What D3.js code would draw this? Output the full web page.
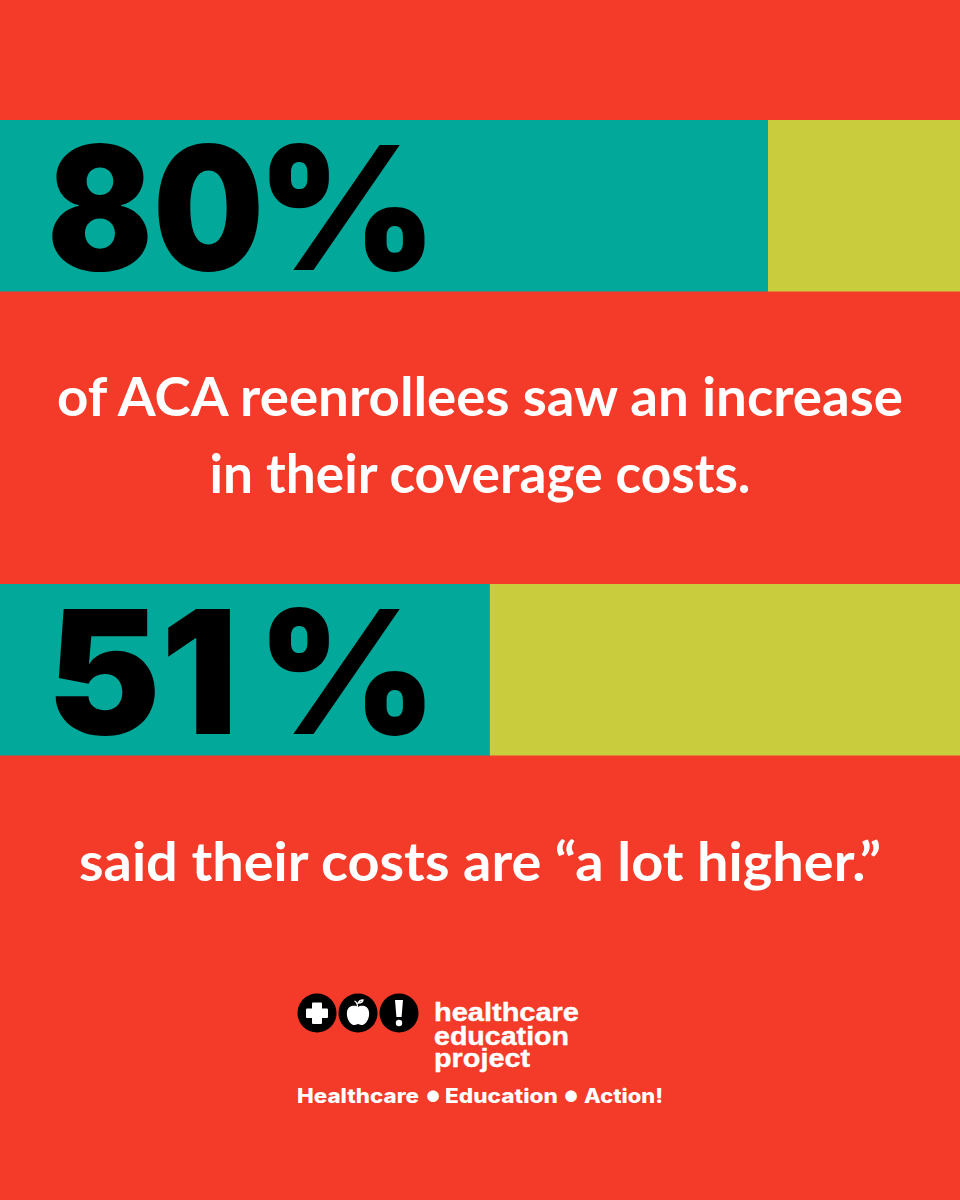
<!DOCTYPE html>
<html>
<head>
  <meta charset="utf-8">
  <title>ACA reenrollees</title>
  <script src="https://cdn.jsdelivr.net/npm/d3@7"></script>
  <style>
    html, body { margin: 0; padding: 0; background: #f43a28; }
    svg { display: block; }
  </style>
</head>
<body>
<div id="chart"></div>
<script>
// values
var labels = ["80", "51"];
var shares = [80, 51];
var captions = [
  ["of ACA reenrollees saw an increase", "in their coverage costs."],
  ["said their costs are \u201ca lot higher.\u201d"]
];
var logoLines = ["healthcare", "education", "project"];
var taglineWords = ["Healthcare", "Education", "Action!"];

var width = 960, height = 1200;
var red = "#f43a28", teal = "#02a899", lime = "#c8cc3d";

var svg = d3.select("#chart").append("svg")
    .attr("width", width)
    .attr("height", height);

svg.append("rect").attr("width", width).attr("height", height).attr("fill", red);

var x = d3.scaleLinear().domain([0, 100]).range([0, width]);
var rowTop = d3.scaleOrdinal().domain(labels).range([120, 584]);
var numberW = d3.scaleOrdinal().domain(labels).range([217, 191]);
var rowH = 171.5;

var rows = svg.selectAll("g.row")
    .data(labels.map(function(d, i) { return { label: d, share: shares[i] }; }))
    .enter().append("g")
    .attr("class", "row")
    .attr("transform", function(d) { return "translate(0," + rowTop(d.label) + ")"; });

rows.append("rect")
    .attr("x", function(d) { return x(d.share); })
    .attr("width", function(d) { return x(100) - x(d.share); })
    .attr("height", rowH)
    .attr("fill", lime);

rows.append("rect")
    .attr("width", function(d) { return x(d.share); })
    .attr("height", rowH)
    .attr("fill", teal);

// squeeze a text to a width with a transform, so its box stays true
function fitted(parent, txt, left, baseline, w) {
  var t = parent.append("text")
      .style("font-family", "Inter, sans-serif")
      .style("font-weight", 900)
      .style("font-size", "172px")
      .text(txt);
  var sx = w / t.node().getComputedTextLength();
  t.attr("transform", "translate(" + left + "," + baseline + ") scale(" + sx + ",1)");
}

rows.each(function(d) {
  var g = d3.select(this);
  fitted(g, d.label, 47, 150, numberW(d.label));
  fitted(g, "%", 257, 150, 180);
});

// captions, baselines and widths
var captionY = [[416, 493], [881]];
var captionW = [[846, 541], [802]];
captions.forEach(function(lines, i) {
  lines.forEach(function(line, j) {
    svg.append("text")
        .attr("class", "caption")
        .attr("x", 480)
        .attr("y", captionY[i][j])
        .attr("text-anchor", "middle")
        .attr("textLength", captionW[i][j])
        .attr("lengthAdjust", "spacingAndGlyphs")
        .attr("fill", "#fff")
        .style("font-family", "Lato, sans-serif")
        .style("font-weight", 700)
        .style("font-size", "53px")
        .text(line);
  });
});

// logo
var logo = svg.append("g").attr("class", "logo");
[317, 358, 399].forEach(function(cx) {
  logo.append("circle").attr("cx", cx).attr("cy", 1013).attr("r", 19.5).attr("fill", "#000");
});

// plus
logo.append("rect").attr("x", 306).attr("y", 1008.5).attr("width", 22).attr("height", 9.5).attr("rx", 1).attr("fill", "#fff");
logo.append("rect").attr("x", 312).attr("y", 1002.5).attr("width", 10).attr("height", 21.5).attr("rx", 1).attr("fill", "#fff");

// apple
logo.append("path")
    .attr("d", "M358 1007c-3-2-10-2-11 5c-1 7 4 14 8 13c1 0 2-1 3-1s2 1 3 1c4 1 9-6 8-13c-1-7-8-7-11-5z")
    .attr("fill", "#fff");
logo.append("path")
    .attr("d", "M357.5 1007c0-3-1-5-3-6M358 1003c1-2 3-3 5-3c0 2-2 3-5 3z")
    .attr("fill", "none")
    .attr("stroke", "#fff")
    .attr("stroke-width", 1.3);

// exclamation mark
logo.append("path")
    .attr("d", "M395 1000h8l-1.4 17h-5.2z")
    .attr("fill", "#fff");
logo.append("circle").attr("cx", 399).attr("cy", 1023).attr("r", 3.2).attr("fill", "#fff");

var logoY = [1021, 1044.5, 1067];
var logoW = [145, 135, 96];
logoLines.forEach(function(line, i) {
  logo.append("text")
      .attr("x", 434)
      .attr("y", logoY[i])
      .attr("textLength", logoW[i])
      .attr("lengthAdjust", "spacingAndGlyphs")
      .attr("fill", "#fff")
      .attr("stroke", "#fff")
      .attr("stroke-width", 0.4)
      .style("font-family", "'Liberation Sans', sans-serif")
      .style("font-weight", 700)
      .style("font-size", "26.5px")
      .text(line);
});

var tagX = [297, 445, 584];
var tagW = [122, 113, 79];
taglineWords.forEach(function(word, i) {
  logo.append("text")
      .attr("x", tagX[i])
      .attr("y", 1103)
      .attr("textLength", tagW[i])
      .attr("lengthAdjust", "spacingAndGlyphs")
      .attr("fill", "#fff")
      .style("font-family", "Inter, sans-serif")
      .style("font-weight", 800)
      .style("font-size", "19.5px")
      .text(word);
});

// bullets between the words
[433, 571].forEach(function(cx) {
  logo.append("text")
      .attr("x", cx)
      .attr("y", 1107)
      .attr("text-anchor", "middle")
      .attr("fill", "#fff")
      .style("font-family", "Inter, sans-serif")
      .style("font-weight", 800)
      .style("font-size", "37px")
      .text("\u2022");
});
</script>
</body>
</html>
